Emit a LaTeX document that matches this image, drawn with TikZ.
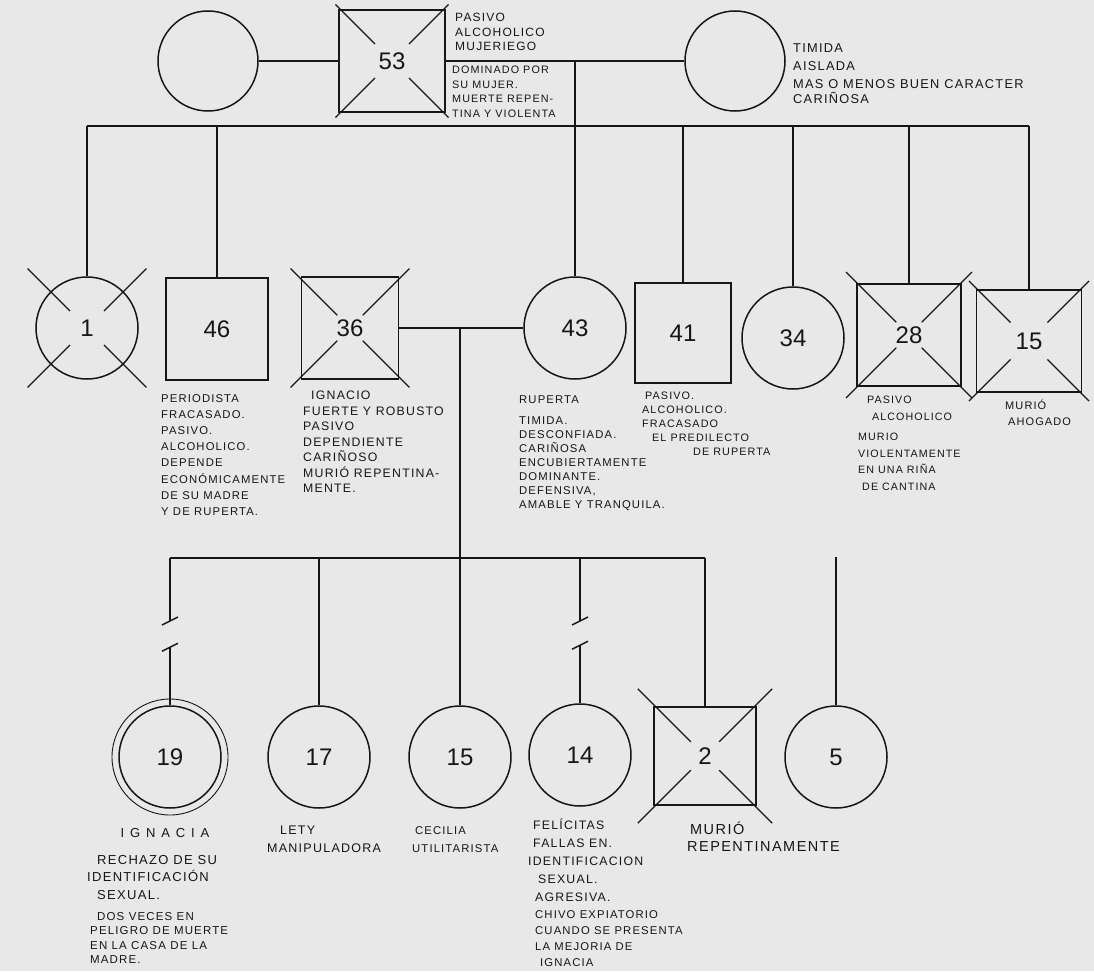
\documentclass[tikz,border=0pt]{standalone}
\usepackage{fontspec}
\setmainfont{Liberation Sans}
\usetikzlibrary{calc}
\definecolor{paper}{RGB}{232,232,232}
\definecolor{ink}{RGB}{22,22,22}
\newcommand{\nf}[2]{\fontsize{#1}{#2}\selectfont\addfontfeature{LetterSpace=10}}

\begin{document}
\begin{tikzpicture}[x=1pt, y=-1pt,
        person/.style={draw=ink, line width=1.5pt, inner sep=0pt, text=ink, font=\fontsize{24}{24}\selectfont},
        woman/.style={person, circle, minimum size=102pt},
        man/.style={person, rectangle, minimum width=102pt, minimum height=102pt},
        link/.style={draw=ink, line width=1.4pt},
        cross/.style={draw=ink, line width=1.1pt},
        note/.style={anchor=north west, inner sep=0pt, align=left, text=ink}
    ]
        % Paper
        \fill[paper] (0,0) rectangle (1094,971);
        \useasboundingbox (0,0) rectangle (1094,971);

        % Grandparents
        \node[woman, minimum size=100pt] (other) at (208,61) {};
        \node[man, minimum width=106pt] (father) at (392,61) {53};
        \node[woman, minimum size=100pt] (mother) at (735,61) {};

        % Their children
        \node[woman] (k1) at (87,328) {1};
        \node[man] (k46) at (217,329) {46};
        \node[man, minimum width=97pt] (ignacio) at (350,328) {36};
        \node[woman] (ruperta) at (575,328) {43};
        \node[man, minimum width=96pt, minimum height=100pt] (k41) at (683,333) {41};
        \node[woman] (k34) at (793,338) {34};
        \node[man, minimum width=104pt] (k28) at (909,335) {28};
        \node[man, minimum width=105pt] (k15) at (1029,341) {15};

        % Children of Ignacio and Ruperta
        \node[woman] (ignacia) at (170,757) {19};
        \node[woman] (lety) at (319,757) {17};
        \node[woman] (cecilia) at (460,757) {15};
        \node[woman] (felicitas) at (580,755) {14};
        \node[man, minimum height=98pt] (g2) at (705,756) {2};
        \node[woman] (g5) at (836,757) {5};
        \draw[ink, line width=0.9pt] (ignacia.center) circle (58pt);

        % Lines
        \coordinate (desc) at (575,61);
        \coordinate (sibL) at (87,126);
        \coordinate (sibR) at (1029,126);
        \coordinate (wed) at (460,328);
        \coordinate (kidL) at (170,558);
        \coordinate (kidR) at (705,558);
        \coordinate (top5) at (836,557);

        \draw[link] (other) -- (father);
        \draw[link] (father) -- (mother);
        \draw[link] (desc) -- (ruperta);
        \draw[link] (sibL) -- (sibR);
        \foreach \k in {k1,k46,k41,k34,k28,k15}
            \draw[link] (\k.north) -- (\k.north |- sibL);
        \draw[link] (ignacio) -- (ruperta);
        \draw[link] (wed) -- (cecilia);
        \draw[link] (kidL) -- (kidR);
        \draw[link] (lety.north) -- (lety.north |- kidL);
        \draw[link] (g2.north) -- (g2.north |- kidL);
        \draw[link] (top5) -- (g5);
        \foreach \g in {ignacia,felicitas} {
            \draw[link] (\g.north |- kidL) -- ++(0,63) coordinate (\g-a);
            \draw[link] (\g.north) -- ++(0,-58) coordinate (\g-b);
            \draw[link] (\g-a) ++(-8,4) -- ++(16,-8);
            \draw[link] (\g-b) ++(-8,4) -- ++(16,-8);
        }

        % Deceased
        \foreach \p/\i/\o in {father/24/80, k1/24/84, ignacio/18/84, k28/18/89, k15/26/85, g2/20/95}
            \foreach \a in {45,135,225,315}
                \draw[cross] ($(\p.center)+(\a:\i)$) -- ($(\p.center)+(\a:\o)$);

        % Notes
        \node[note, font={\nf{12}{14.5}}] (nFather) at (455,13) {PASIVO\\ALCOHOLICO\\MUJERIEGO};
        \node[note, font={\nf{10.8}{14.5}}] (nFather2) at (452,66) {DOMINADO POR\\SU MUJER.\\MUERTE REPEN-\\TINA Y VIOLENTA};
        \node[note, font={\nf{12.8}{18}}] (nMother) at (793,43) {TIMIDA\\AISLADA\\MAS O MENOS BUEN CARACTER\\[-3pt]CARIÑOSA};

        \node[note, font={\nf{11.3}{16.2}}] (n46) at (161,394) {PERIODISTA\\FRACASADO.\\PASIVO.\\ALCOHOLICO.\\DEPENDE\\ECONÓMICAMENTE\\DE SU MADRE\\Y DE RUPERTA.};
        \node[note, font={\nf{12.3}{15.5}}] (n36) at (303,391) {\hspace*{8pt}IGNACIO\\FUERTE Y ROBUSTO\\PASIVO\\DEPENDIENTE\\CARIÑOSO\\MURIÓ REPENTINA-\\MENTE.};
        \node[note, font={\nf{11.3}{14}}] (n43) at (519,396) {RUPERTA\\[7pt]TIMIDA.\\DESCONFIADA.\\CARIÑOSA\\ENCUBIERTAMENTE\\DOMINANTE.\\DEFENSIVA,\\AMABLE Y TRANQUILA.};
        \node[note, font={\nf{10.8}{14}}] (n41) at (642,392) {\hspace*{3pt}PASIVO.\\ALCOHOLICO.\\FRACASADO\\\hspace*{10pt}EL PREDILECTO\\\hspace*{51pt}DE RUPERTA};
        \node[note, font={\nf{10.7}{16.5}}] (n28) at (858,396) {\hspace*{9pt}PASIVO\\\hspace*{14pt}ALCOHOLICO\\[4pt]MURIO\\VIOLENTAMENTE\\EN UNA RIÑA\\\hspace*{4pt}DE CANTINA};
        \node[note, font={\nf{11}{16}}] (n15) at (1005,400) {MURIÓ\\\hspace*{3pt}AHOGADO};

        \node[text=ink, font={\nf{13}{16}\addfontfeature{LetterSpace=45}}] (nIgnacia) at (165,833) {IGNACIA};
        \node[note, font={\nf{13}{17.5}}] (n19) at (87,855) {\hspace*{10pt}RECHAZO DE SU\\IDENTIFICACIÓN\\\hspace*{10pt}SEXUAL.};
        \node[note, font={\nf{11.5}{14.5}}] (n19b) at (90,912) {\hspace*{7pt}DOS VECES EN\\PELIGRO DE MUERTE\\EN LA CASA DE LA\\MADRE.};
        \node[note, font={\nf{12.5}{18}}] (n17) at (267,826) {\hspace*{13pt}LETY\\MANIPULADORA};
        \node[note, font={\nf{11.3}{18}}] (n15b) at (412,826) {\hspace*{3pt}CECILIA\\UTILITARISTA};
        \node[note, font={\nf{12.3}{17.8}}] (n14) at (528,819) {\hspace*{5pt}FELÍCITAS\\\hspace*{5pt}FALLAS EN.\\IDENTIFICACION\\\hspace*{10pt}SEXUAL.\\\hspace*{7pt}AGRESIVA.};
        \node[note, font={\nf{11.3}{16}}] (n14b) at (535,910) {CHIVO EXPIATORIO\\CUANDO SE PRESENTA\\LA MEJORIA DE\\\hspace*{5pt}IGNACIA};
        \node[note, font={\nf{14.5}{17}}] (n2) at (687,822) {\hspace*{3pt}MURIÓ\\REPENTINAMENTE};
    \end{tikzpicture}
\end{document}
